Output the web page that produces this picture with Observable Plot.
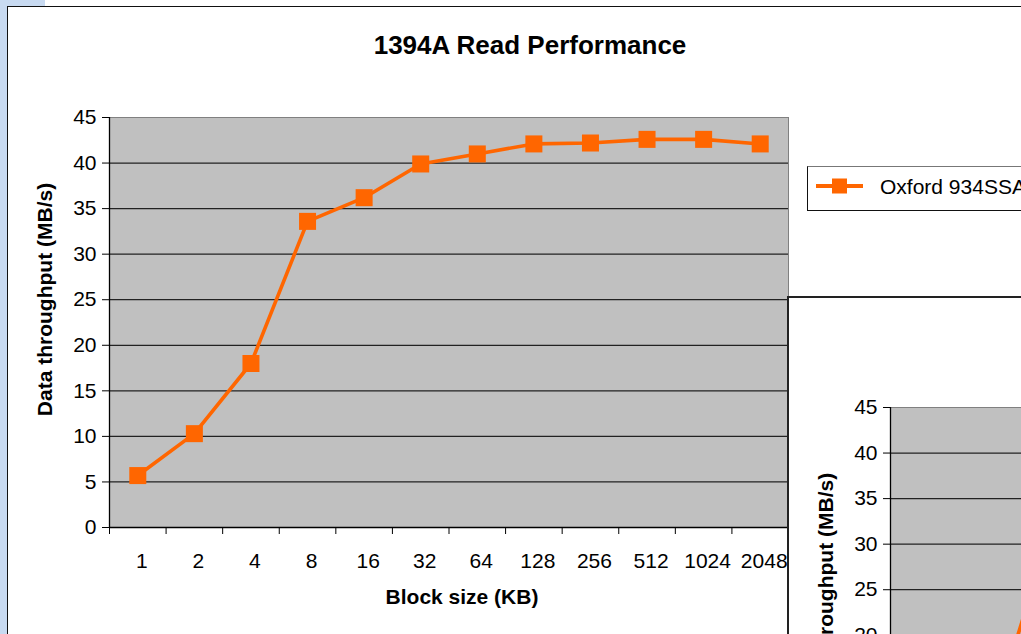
<!DOCTYPE html>
<html>
<head>
<meta charset="utf-8">
<script src="https://cdn.jsdelivr.net/npm/d3@7"></script>
<script src="https://cdn.jsdelivr.net/npm/@observablehq/plot@0.6"></script>
<style>
  html, body { margin: 0; padding: 0; width: 1021px; height: 634px; overflow: hidden; background: #fff; font-family: "Liberation Sans", Arial, sans-serif; }
  .blue { position: absolute; background: #C8DAF1; }
  #frame1 { position: absolute; left: 7px; top: 6px; width: 1100px; height: 700px; border-left: 1px solid #111; border-top: 1px solid #111; background: #fff; overflow: hidden; }
  #chart1 { position: absolute; left: -8px; top: -7px; width: 1021px; }
  #legend { position: absolute; left: 807px; top: 166px; width: 260px; height: 43px; border: 1px solid #111; border-top-color: #777; background: #fff; }
  #legend svg { position: absolute; left: 8px; top: 10px; }
  #legend span { position: absolute; left: 72px; top: 8px; font-size: 21px; white-space: nowrap; color: #000; }
  #frame2 { position: absolute; left: 787px; top: 296px; width: 400px; height: 400px; border-left: 2px solid #222; border-top: 2px solid #222; background: #fff; overflow: hidden; }
  #chart2 { position: absolute; left: -8px; top: -8px; width: 1021px; }
  #chart1 svg, #chart2 svg { max-width: none !important; width: 1021px !important; height: 634px !important; }
</style>
</head>
<body>
<div class="blue" style="left:0;top:0;width:7px;height:634px"></div>
<div class="blue" style="left:0;top:0;width:45px;height:6px"></div>
<div id="frame1"><div id="chart1"></div></div>
<div id="legend">
  <svg width="50" height="24"><line x1="0" x2="47" y1="9" y2="9" stroke="#FF6600" stroke-width="4"/><rect x="16" y="1.5" width="15" height="15" fill="#FF6600"/></svg>
  <span>Oxford 934SSA</span>
</div>
<div id="frame2"><div id="chart2"></div></div>
<script>
const blocks = ["1", "2", "4", "8", "16", "32", "64", "128", "256", "512", "1024", "2048"];
const readValues = [5.7, 10.3, 18.0, 33.6, 36.2, 39.9, 41.0, 42.1, 42.2, 42.6, 42.6, 42.1];
const writeValues = [3, 5, 25];
const yTicks = [0, 5, 10, 15, 20, 25, 30, 35, 40, 45];
const gridTicks = [5, 10, 15, 20, 25, 30, 35, 40];
const titleText = "1394A Read Performance";
const xLabel = "Block size (KB)";
const yLabel = "Data throughput (MB/s)";
const orange = "#FF6600";

function makeChart(values, title) {
  const data = values.map((v, i) => ({i: i + 0.5, v}));
  return Plot.plot({
    width: 1021,
    height: 634,
    marginLeft: 109,
    marginRight: 233,
    marginTop: 117,
    marginBottom: 107,
    style: {fontFamily: "'Liberation Sans', Arial, sans-serif", fontSize: "21px", color: "#000", background: "transparent", overflow: "visible", maxWidth: "none"},
    x: {type: "linear", domain: [0, blocks.length]},
    y: {domain: [0, 45]},
    marks: [
      Plot.frame({fill: "#C0C0C0", stroke: "#808080"}),
      Plot.ruleY(gridTicks, {stroke: "#222", strokeWidth: 1.2}),
      Plot.ruleX([0], {stroke: "#000", strokeWidth: 1.3}),
      Plot.ruleY([0], {stroke: "#000", strokeWidth: 1.3}),
      Plot.axisY({ticks: yTicks, tickSize: 7, tickPadding: 6, label: null, fontSize: 21}),
      Plot.axisX({ticks: d3.range(blocks.length + 1), tickSize: 7, tickFormat: () => "", label: null}),
      Plot.axisX({ticks: d3.range(blocks.length).map(i => i + 0.5), tickSize: 0, tickPadding: 26, dx: 4, tickFormat: d => blocks[Math.floor(d)], label: null, fontSize: 21}),
      Plot.line(data, {x: "i", y: "v", stroke: orange, strokeWidth: 3.6}),
      Plot.dot(data, {x: "i", y: "v", symbol: "square", r: 9.6, fill: orange, stroke: "none"}),
      Plot.text([title], {frameAnchor: "top", dx: 81, dy: -72, fontWeight: "bold", fontSize: 26, lineAnchor: "middle", textAnchor: "middle"}),
      Plot.text([xLabel], {frameAnchor: "bottom", dx: 13, dy: 70, fontWeight: "bold", fontSize: 21, lineAnchor: "middle", textAnchor: "middle"}),
      Plot.text([yLabel], {frameAnchor: "left", dx: -64, dy: -23, rotate: -90, fontWeight: "bold", fontSize: 21, lineAnchor: "middle", textAnchor: "middle"})
    ]
  });
}

document.getElementById("chart1").appendChild(makeChart(readValues, titleText));
document.getElementById("chart2").appendChild(makeChart(writeValues, "1394A Write Performance"));
</script>
</body>
</html>
